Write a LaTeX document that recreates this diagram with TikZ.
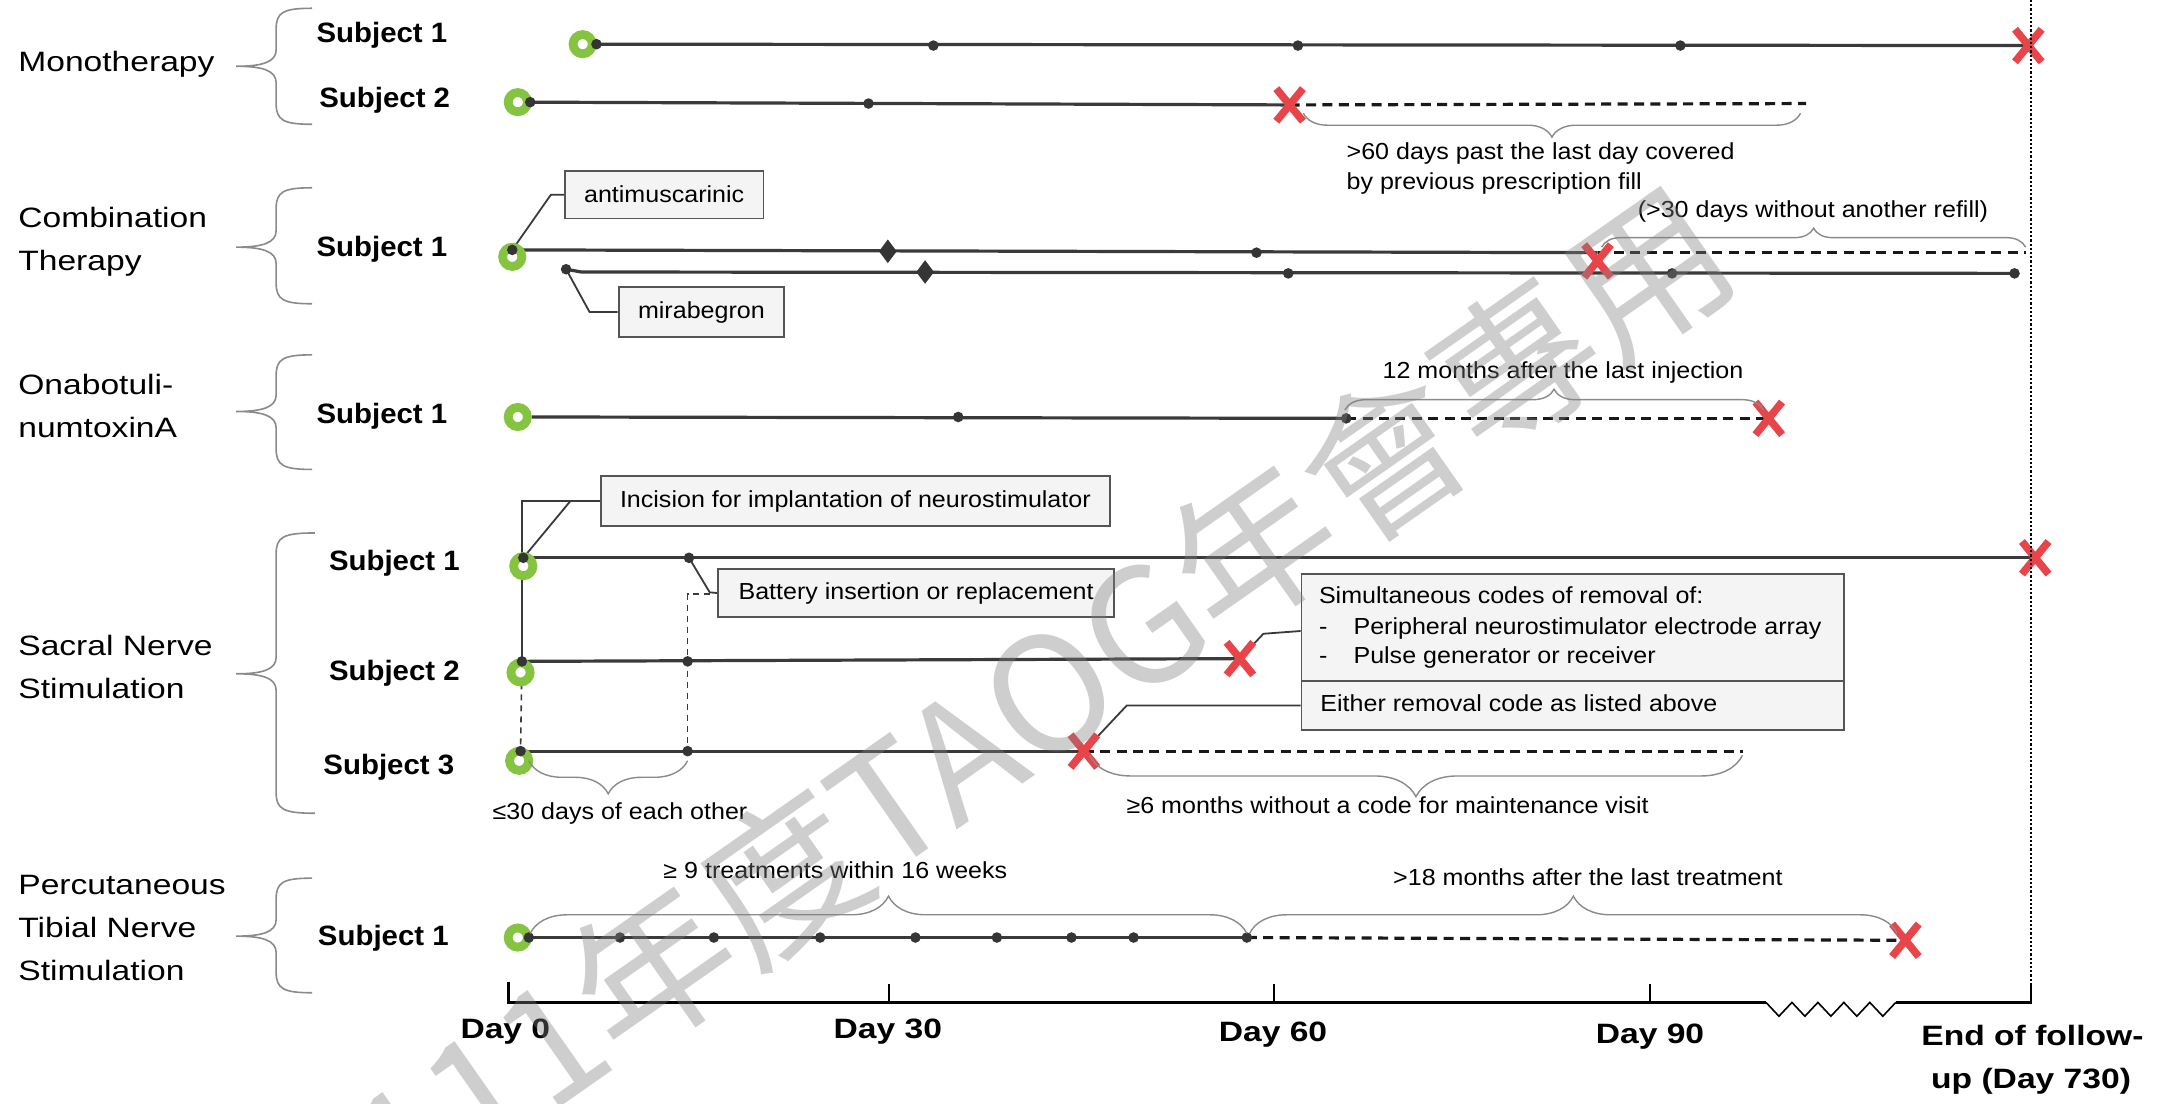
\documentclass[tikz,border=0pt]{standalone}
\usepackage{fontspec}
\setmainfont{Liberation Sans}
\newfontfamily\catfont[FakeStretch=1.2]{Liberation Sans}
\newfontfamily\dayfont[FakeStretch=1.2]{Liberation Sans}
\newfontfamily\subjfont[FakeStretch=1.05]{Liberation Sans}
\newfontfamily\notefont[FakeStretch=1.08]{Liberation Sans}
\newfontfamily\cjkfont{Noto Sans CJK TC}
\usetikzlibrary{shapes.geometric,shapes.misc,decorations.pathreplacing,backgrounds}
\definecolor{linec}{HTML}{3A3A3A}
\definecolor{dotc}{HTML}{353535}
\definecolor{ringg}{HTML}{84C441}
\definecolor{xred}{HTML}{E8454B}
\definecolor{bracec}{HTML}{8A8A8A}
\definecolor{boxfill}{HTML}{F4F4F4}
\definecolor{boxdraw}{HTML}{555555}
\newcommand\mycatbrace[4]{%
 \draw[catbr] (#4,#1) .. controls (205,#1) and (200,#1+3) .. (200,#1+15) -- (200,#3-12)
   .. controls (200,#3-3) and (190,#3) .. (171,#3)
   .. controls (190,#3) and (200,#3+3) .. (200,#3+12) -- (200,#2-15)
   .. controls (200,#2-3) and (205,#2) .. (#4,#2);}
\begin{document}
\begin{tikzpicture}[x=0.69035pt,y=-0.69035pt,
  ring/.style={circle,draw=ringg,line width=4.4pt,fill=white,minimum size=9.6pt,inner sep=0pt},
  tdot/.style={circle,fill=dotc,minimum size=5.3pt,inner sep=0pt},
  dia/.style={diamond,fill=dotc,minimum width=9pt,minimum height=12pt,inner sep=0pt},
  endx/.style={cross out,draw=xred,line width=3.8pt,minimum width=9.5pt,minimum height=12.5pt,inner sep=0pt},
  tl/.style={draw=linec,line width=1.6pt},
  dl/.style={draw=black!90,line width=1.6pt,dash pattern=on 5pt off 3.2pt},
  conn/.style={draw=linec,line width=0.9pt},
  vdash/.style={draw=linec,line width=0.8pt,dash pattern=on 3pt off 2.5pt},
  brc/.style={draw=bracec,line width=0.7pt,decorate,decoration={brace,amplitude=#1}},
  catbr/.style={draw=bracec,line width=0.8pt},
  cat/.style={anchor=west,inner sep=0pt,font=\catfont\fontsize{14}{17}\selectfont,text height=10pt,text depth=3pt},
  subj/.style={anchor=west,inner sep=0pt,font=\subjfont\bfseries\fontsize{14}{17}\selectfont,text height=10pt,text depth=3pt},
  day/.style={inner sep=0pt,font=\dayfont\bfseries\fontsize{14}{17}\selectfont,text height=10pt,text depth=3pt},
  note/.style={inner sep=0pt,font=\notefont\fontsize{11.6}{14}\selectfont,text height=8.4pt,text depth=2.4pt},
  lbox/.style={draw=boxdraw,fill=boxfill,line width=0.9pt,inner sep=0pt,font=\notefont\fontsize{11.6}{14}\selectfont},
  axisl/.style={draw=black,line width=1.4pt},
]
\begin{scope}[on background layer]
\fill[white] (0,0) rectangle (1568,799);
\end{scope}
\useasboundingbox (0,0) rectangle (1568,799);

% ---------- category labels ----------
\node[cat] (tmono) at (13,47) {Monotherapy};
\node[cat] (tcomb1) at (13,160) {Combination};
\node[cat] (tcomb2) at (13,191) {Therapy};
\node[cat] (tona1) at (13,281) {Onabotuli-};
\node[cat] (tona2) at (13,312) {numtoxinA};
\node[cat] (tsac1) at (13,470) {Sacral Nerve};
\node[cat] (tsac2) at (13,501) {Stimulation};
\node[cat] (tptn1) at (13,643) {Percutaneous};
\node[cat] (tptn2) at (13,674) {Tibial Nerve};
\node[cat] (tptn3) at (13,705) {Stimulation};

\mycatbrace{6}{90}{48}{226}
\mycatbrace{136}{220}{179}{226}
\mycatbrace{257}{340}{298}{226}
\mycatbrace{386}{589}{488}{228}
\mycatbrace{636}{719}{678}{226}

% ---------- subject labels ----------
\node[subj] (sm1) at (229,26) {Subject 1};
\node[subj] (sm2) at (231,73) {Subject 2};
\node[subj] (sc1) at (229,181) {Subject 1};
\node[subj] (so1) at (229,302) {Subject 1};
\node[subj] (ss1) at (238,408) {Subject 1};
\node[subj] (ss2) at (238,488) {Subject 2};
\node[subj] (ss3) at (234,556) {Subject 3};
\node[subj] (sp1) at (230,680) {Subject 1};

% ---------- Monotherapy ----------
\node[ring] (m1r) at (422,32) {};
\node[tdot] (m1a) at (432,32) {};
\node[tdot] (m1b) at (676,33) {};
\node[tdot] (m1c) at (940,33) {};
\node[tdot] (m1d) at (1217,33) {};
\node[endx] (m1x) at (1469,33) {};

\node[ring] (m2r) at (375,74) {};
\node[tdot] (m2a) at (384,74) {};
\node[tdot] (m2b) at (629,75) {};
\node[endx] (m2x) at (934,76) {};
\coordinate (m2e) at (1308,75);
\draw[brc=12pt] (1304,82) -- (944,82);
\node[note,anchor=west] (m2t1) at (975,111) {>60 days past the last day covered};
\node[note,anchor=west] (m2t2) at (975,133) {by previous prescription fill};

% ---------- Combination ----------
\node[ring] (c1r) at (371,186) {};
\node[tdot] (c1a) at (371,181) {};
\node[dia] (c1d) at (643,182) {};
\node[tdot] (c1b) at (910,183) {};
\node[tdot] (c2a) at (410,195) {};
\node[dia] (c2d) at (670,197) {};
\node[tdot] (c2b) at (933,198) {};
\node[tdot] (c2c) at (1211,198) {};
\node[tdot] (c2e) at (1459,198) {};
\node[endx] (c1x) at (1157,189) {};
\coordinate (c1e) at (1467,183);
\draw[brc=9.5pt] (1160,179) -- (1467,179);
\node[note] (c1t) at (1313,153) {(>30 days without another refill)};
\node[lbox,minimum width=99.4pt,minimum height=23.8pt] (anti) at (481,141) {antimuscarinic};
\node[lbox,minimum width=82.8pt,minimum height=24.9pt] (mira) at (508,226) {mirabegron};

% ---------- OnabotulinumtoxinA ----------
\node[ring] (o1r) at (375,302) {};
\node[tdot] (o1a) at (694,302) {};
\node[tdot] (o1b) at (975,303) {};
\node[endx] (o1x) at (1281,303) {};
\draw[brc=10.4pt] (974,297) -- (1277,297);
\node[note] (o1t) at (1132,270) {12 months after the last injection};

% ---------- Sacral nerve stimulation ----------
\node[ring] (s1r) at (379,410) {};
\node[tdot] (s1a) at (379,404) {};
\node[tdot] (s1b) at (499,404) {};
\node[endx] (s1x) at (1474,404) {};
\node[ring] (s2r) at (377,487) {};
\node[tdot] (s2a) at (378,479) {};
\node[tdot] (s2b) at (498,479) {};
\node[endx] (s2x) at (898,477) {};
\node[ring] (s3r) at (376,551) {};
\node[tdot] (s3a) at (377,544) {};
\node[tdot] (s3b) at (498,544) {};
\node[endx] (s3x) at (785,544) {};
\coordinate (s3e) at (1262,544);
\node[lbox,minimum width=254.7pt,minimum height=24.9pt] (inc) at (619.5,363) {Incision for implantation of neurostimulator};
\node[lbox,minimum width=198pt,minimum height=24.2pt] (bat) at (663.5,429.5) {Battery insertion or replacement};
\node[lbox,minimum width=271.3pt,minimum height=53.5pt,anchor=north west] (sim) at (942,415) {};
\node[lbox,minimum width=271.3pt,minimum height=24.5pt,anchor=north west] (eith) at (942,492.5) {};
\node[note,anchor=west] (simt) at (955,433) {Simultaneous codes of removal of:};
\node[note,anchor=west] (simd1) at (955,455) {-};
\node[note,anchor=west] (simt1) at (980,455) {Peripheral neurostimulator electrode array};
\node[note,anchor=west] (simd2) at (955,476) {-};
\node[note,anchor=west] (simt2) at (980,476) {Pulse generator or receiver};
\node[note,anchor=west] (eitht) at (956,511) {Either removal code as listed above};
\draw[brc=16.5pt] (498,551) -- (383,551);
\node[note] (s30t) at (449,589) {≤30 days of each other};
\draw[brc=20.7pt] (1262,547) -- (789,547);
\node[note] (s6t) at (1005,585) {≥6 months without a code for maintenance visit};

% ---------- PTNS ----------
\node[ring] (p1r) at (375,679) {};
\node[tdot] (p0) at (383,679) {};
\node[tdot] (p1) at (449,679) {};
\node[tdot] (p2) at (517,679) {};
\node[tdot] (p3) at (594,679) {};
\node[tdot] (p4) at (663,679) {};
\node[tdot] (p5) at (722,679) {};
\node[tdot] (p6) at (776,679) {};
\node[tdot] (p7) at (821,679) {};
\node[tdot] (p8) at (903,679) {};
\node[endx] (p1x) at (1380,681) {};
\draw[brc=18.6pt] (384,676) -- (903,676);
\draw[brc=18.6pt] (905,676) -- (1374,676);
\node[note] (p9t) at (605,632) {≥ 9 treatments within 16 weeks};
\node[note] (p18t) at (1150,637) {>18 months after the last treatment};

% ---------- axis ----------
\draw[draw=black,line width=1.1pt,densely dotted] (1471,0) -- (1471,726);
\draw[axisl] (368,711) -- (368,726) -- (1279,726);
\draw[draw=black,line width=0.8pt] (1279,726)
  \foreach \i in {0,...,4} { -- ({1279+18.8*\i+9.4},736) -- ({1279+18.8*(\i+1)},726) };
\draw[axisl] (1373,726) -- (1471,726) -- (1471,712);
\draw[draw=black,line width=1pt] (644,726) -- (644,713) (923,726) -- (923,713) (1195,726) -- (1195,713);
\node[day] (d0) at (366,747) {Day 0};
\node[day] (d30) at (643,747) {Day 30};
\node[day] (d60) at (922,749) {Day 60};
\node[day] (d90) at (1195,751) {Day 90};
\node[day] (dend1) at (1472,752) {End of follow-};
\node[day] (dend2) at (1471,783) {up (Day 730)};

% ---------- timelines (behind markers) ----------
\begin{scope}[on background layer]
\draw[tl] (m1a.center) -- (m1x.center);
\draw[tl] (m2a.center) -- (m2x.center);
\draw[dl] (m2x.center) -- (m2e);
\draw[tl] (c1a.center) -- (c1x.center |- c1e);
\draw[dl] (c1x.center |- c1e) -- (c1e);
\draw[tl] (c2a.center) -- (421,197) -- (c2e.center);
\draw[conn] (c1a.center) -- (399,141) -- (anti.west);
\draw[conn] (c2a.center) -- (427,226) -- (mira.west);
\draw[tl] (o1r.east) -- (o1b.center);
\draw[dl] (o1b.center) -- (o1x.center);
\draw[tl] (s1a.center) -- (s1x.center);
\draw[tl] (s2a.center) -- (s2x.center);
\draw[tl] (s3a.center) -- (s3x.center);
\draw[dl] (s3x.center) -- (s3e);
\draw[conn] (inc.west) -- (s2a.center |- inc.west) -- (s2a.center);
\draw[conn] (s1a.center) -- (413,363);
\draw[vdash] (s2a.center) -- (s3a.center);
\draw[conn] (s1b.center) -- (514,429) -- (bat.west);
\draw[vdash] (514,430) -- (s3b.center |- 514,430) -- (s3b.center);
\draw[conn] (s2x.center) -- (915,459) -- (sim.west |- 915,457);
\draw[conn] (s3x.center) -- (816,511) -- (eith.west);
\draw[tl] (p0.center) -- (p8.center);
\draw[dl] (p8.center) -- (p1x.center);
\end{scope}

% ---------- watermark ----------
\node[rotate=35,text=gray,opacity=0.38,inner sep=0pt,font=\cjkfont\fontsize{80}{80}\selectfont] (wmk) at (753,505) {111年度TAOG年會專用};
\end{tikzpicture}
\end{document}
